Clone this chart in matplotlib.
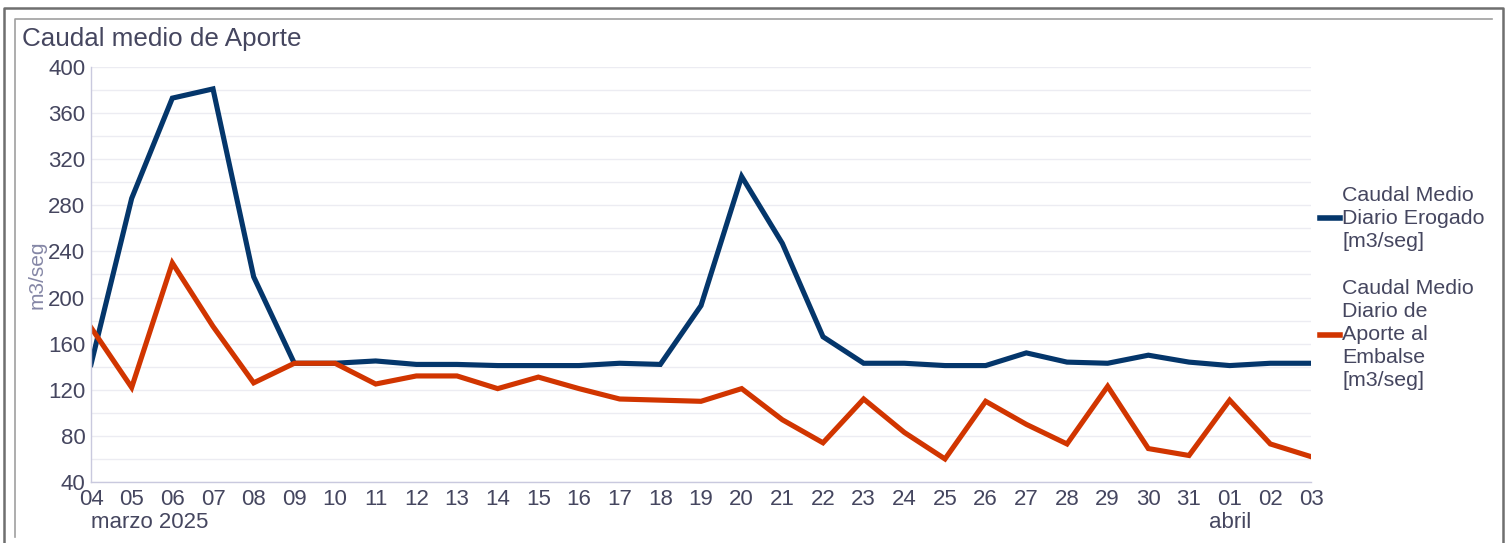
import numpy as np
import matplotlib.pyplot as plt
from matplotlib.lines import Line2D

plt.rcParams['font.family'] = ['Liberation Sans', 'DejaVu Sans']

days = ["04", "05", "06", "07", "08", "09", "10", "11", "12", "13", "14", "15",
        "16", "17", "18", "19", "20", "21", "22", "23", "24", "25", "26", "27",
        "28", "29", "30", "31", "01", "02", "03"]
erogado = [142, 286, 373, 381, 218, 143, 143, 145, 142, 142, 141, 141, 141, 143,
           142, 193, 305, 247, 166, 143, 143, 141, 141, 152, 144, 143, 150, 144,
           141, 143, 143]
aporte = [174, 122, 230, 175, 126, 143, 143, 125, 132, 132, 121, 131, 121, 112,
          111, 110, 121, 94, 74, 112, 83, 60, 110, 90, 73, 123, 69, 63, 111, 73, 62]
month_labels = [("marzo 2025", "04", "left"), ("abril", "01", "center")]

txt = '#45465f'
blue = '#04366b'
red = '#d13500'

fig = plt.figure(figsize=(15.11, 5.43), dpi=100)
ax = fig.add_axes([91 / 1511, 61 / 543, 1220 / 1511, 415 / 543])

x = np.arange(len(days))
ax.plot(x, erogado, color=blue, lw=3.7, solid_joinstyle='miter',
        label="Caudal Medio\nDiario Erogado\n[m3/seg]")
ax.plot(x, aporte, color=red, lw=3.7, solid_joinstyle='miter',
        label="Caudal Medio\nDiario de\nAporte al\nEmbalse\n[m3/seg]")

ax.set_xlim(0, len(days) - 1)
ax.set_ylim(40, 400)
ax.set_yticks(np.arange(40, 401, 40))
ax.set_yticks(np.arange(40, 401, 20), minor=True)
ax.set_xticks(x)
ax.set_xticklabels(days)
ax.grid(True, which='both', axis='y', color='#ececf2', lw=1)
ax.set_axisbelow(True)
ax.tick_params(axis='both', which='both', length=0, labelsize=16, colors=txt)
ax.tick_params(axis='x', pad=5)
ax.tick_params(axis='y', pad=4)
for s in ['top', 'right']:
    ax.spines[s].set_visible(False)
for s in ['left', 'bottom']:
    ax.spines[s].set_color('#c9c9de')
    ax.spines[s].set_linewidth(1)

ax.set_ylabel("m3/seg", fontsize=15, color='#8587a6', labelpad=1)

for label, day, ha in month_labels:
    ax.annotate(label, xy=(days.index(day), 0), xycoords=('data', 'axes fraction'),
                xytext=(0, -29), textcoords='offset points', ha=ha, va='center',
                fontsize=16, color=txt)

fig.text(22 / 1511, 1 - 39 / 543, "Caudal medio de Aporte", fontsize=18.7,
         color=txt, va='center', ha='left')

leg = ax.legend(loc='center left', bbox_to_anchor=(1.0, 0.4675), frameon=False,
                fontsize=15.4, labelcolor=txt, handlelength=0.95, handletextpad=0.1,
                labelspacing=1.34, borderaxespad=0.0)
for t in leg.get_texts():
    t.set_linespacing(1.26)
for h in leg.get_lines():
    h.set_linewidth(4)

# frames around the chart
fig.add_artist(Line2D([4 / 1511, 4 / 1511, 1503 / 1511, 1503 / 1511],
                      [0, 1 - 8 / 543, 1 - 8 / 543, 0], color='#6f6f6f', lw=1.8))
fig.add_artist(Line2D([15 / 1511, 15 / 1511, 1492 / 1511],
                      [1 - 537 / 543, 1 - 19 / 543, 1 - 19 / 543], color='#a0a0a0', lw=1.2))

fig.savefig("out.png", dpi=100)
